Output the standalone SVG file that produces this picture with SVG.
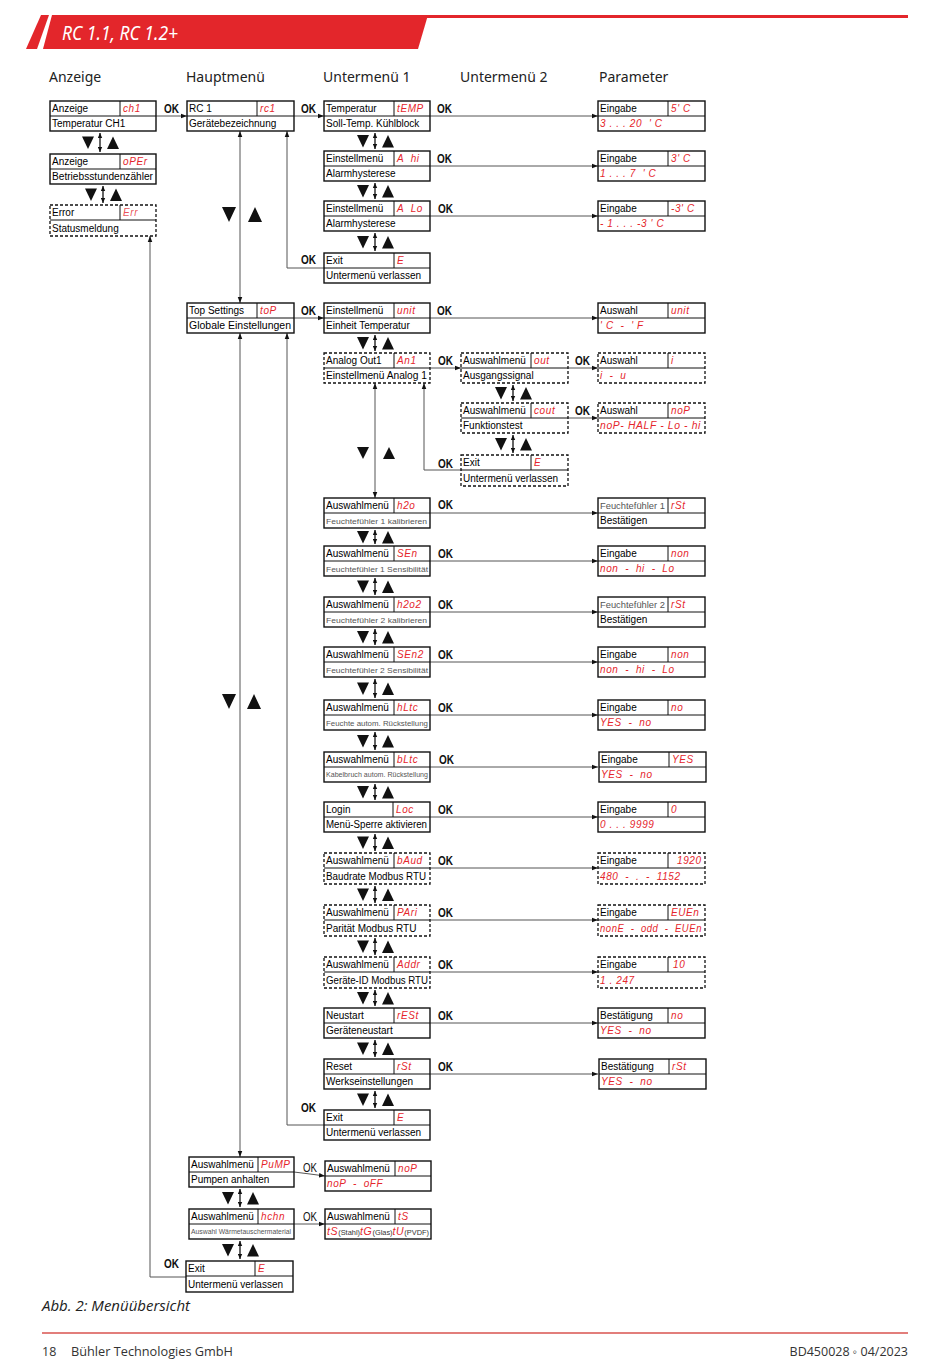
<svg xmlns="http://www.w3.org/2000/svg" xmlns:xlink="http://www.w3.org/1999/xlink" width="950" height="1369" viewBox="0 0 950 1369">
<style>
.b{fill:#fff;stroke:#111;stroke-width:1.4}
.d{fill:#fff;stroke:#111;stroke-width:1.3;stroke-dasharray:3 2}
.dv{stroke:#111;stroke-width:1;fill:none}
.t{font-family:"Liberation Sans",Arial,sans-serif;font-size:10px;fill:#000}
.s{font-family:"Liberation Sans",Arial,sans-serif;font-size:8px;fill:#555}
.r{font-family:"Liberation Sans",Arial,sans-serif;font-style:italic;font-size:10px;letter-spacing:0.6px;fill:#e5262c;white-space:pre}
.ok{font-family:"Liberation Sans",Arial,sans-serif;font-weight:bold;font-size:12.5px;fill:#111}
.c{stroke:#555;stroke-width:1;fill:none}
.a{marker-end:url(#ah)}
.aa{marker-start:url(#ah);marker-end:url(#ah)}
.ud{stroke:#111;stroke-width:1.3;marker-start:url(#sh);marker-end:url(#sh)}
.h{font-family:"Noto Sans","Open Sans",sans-serif;font-size:14px;fill:#222}
.f{font-family:"Open Sans","Noto Sans",sans-serif;font-size:12.5px;fill:#333}
</style>
<defs>
<marker id="ah" viewBox="0 0 8 8" refX="8" refY="4" markerWidth="6" markerHeight="6" markerUnits="userSpaceOnUse" orient="auto-start-reverse"><path d="M0,1 L8,4 L0,7 z" fill="#111"/></marker>
<marker id="sh" viewBox="0 0 8 8" refX="8" refY="4" markerWidth="5" markerHeight="5" markerUnits="userSpaceOnUse" orient="auto-start-reverse"><path d="M0,0.5 L8,4 L0,7.5 z" fill="#111"/></marker>
<g id="nv" fill="#111"><polygon points="-18,0 -6,0 -12,12.5"/><polygon points="7,12.5 19,12.5 13,0"/></g>
</defs>

<g id="header">
<polygon points="41,15 49,15 37,49 26,49" fill="#e3262b"/>
<polygon points="52,15 428,15 418,49 43,49" fill="#e3262b"/>
<rect x="420" y="15" width="488" height="3" fill="#e3262b"/>
<text x="62" y="40" font-family="Noto Sans,Open Sans,sans-serif" font-style="italic" font-size="19" fill="#fff" textLength="116" lengthAdjust="spacingAndGlyphs">RC 1.1, RC 1.2+</text>
</g>

<g id="column-headers">
<text class="h" x="49" y="82">Anzeige</text>
<text class="h" x="186" y="82">Hauptmenü</text>
<text class="h" x="323" y="82">Untermenü 1</text>
<text class="h" x="460" y="82">Untermenü 2</text>
<text class="h" x="599" y="82">Parameter</text>
</g>

<g id="connectors">
<line class="c a" x1="156" y1="116" x2="187" y2="116"/>
<line class="c a" x1="294" y1="116" x2="324" y2="116"/>
<line class="c a" x1="430" y1="116" x2="598" y2="116"/>
<line class="c a" x1="430" y1="166" x2="598" y2="166"/>
<line class="c a" x1="430" y1="216" x2="598" y2="216"/>
<polyline class="c a" points="324,268 287,268 287,131"/>
<line class="c aa" x1="240" y1="131" x2="240" y2="303"/>
<line class="c a" x1="294" y1="318" x2="324" y2="318"/>
<line class="c a" x1="430" y1="318" x2="598" y2="318"/>
<line class="c a" x1="430" y1="368" x2="461" y2="368"/>
<line class="c a" x1="568" y1="368" x2="598" y2="368"/>
<line class="c a" x1="568" y1="418" x2="598" y2="418"/>
<polyline class="c a" points="461,470 424,470 424,383"/>
<line class="c aa" x1="375" y1="383" x2="375" y2="498"/>
<line class="c a" x1="430" y1="513" x2="598" y2="513"/>
<line class="c a" x1="430" y1="561" x2="598" y2="561"/>
<line class="c a" x1="430" y1="612" x2="598" y2="612"/>
<line class="c a" x1="430" y1="662" x2="598" y2="662"/>
<line class="c a" x1="430" y1="715" x2="598" y2="715"/>
<line class="c a" x1="430" y1="767" x2="598" y2="767"/>
<line class="c a" x1="430" y1="817" x2="598" y2="817"/>
<line class="c a" x1="430" y1="868" x2="598" y2="868"/>
<line class="c a" x1="430" y1="920" x2="598" y2="920"/>
<line class="c a" x1="430" y1="972" x2="598" y2="972"/>
<line class="c a" x1="430" y1="1023" x2="598" y2="1023"/>
<line class="c a" x1="430" y1="1074" x2="598" y2="1074"/>
<polyline class="c a" points="324,1125 287,1125 287,333"/>
<line class="c aa" x1="240" y1="333" x2="240" y2="1157"/>
<polyline class="c a" points="294,1172 310,1174 325,1176"/>
<line class="c a" x1="294" y1="1224" x2="325" y2="1224"/>
<polyline class="c a" points="186,1277 150,1277 150,236"/>
</g>

<g id="ok-labels">
<text class="ok" x="164" y="113" textLength="15" lengthAdjust="spacingAndGlyphs">OK</text>
<text class="ok" x="301" y="113" textLength="15" lengthAdjust="spacingAndGlyphs">OK</text>
<text class="ok" x="437" y="113" textLength="15" lengthAdjust="spacingAndGlyphs">OK</text>
<text class="ok" x="437" y="163" textLength="15" lengthAdjust="spacingAndGlyphs">OK</text>
<text class="ok" x="438" y="213" textLength="15" lengthAdjust="spacingAndGlyphs">OK</text>
<text class="ok" x="301" y="264" textLength="15" lengthAdjust="spacingAndGlyphs">OK</text>
<text class="ok" x="301" y="315" textLength="15" lengthAdjust="spacingAndGlyphs">OK</text>
<text class="ok" x="437" y="315" textLength="15" lengthAdjust="spacingAndGlyphs">OK</text>
<text class="ok" x="438" y="365" textLength="15" lengthAdjust="spacingAndGlyphs">OK</text>
<text class="ok" x="575" y="365" textLength="15" lengthAdjust="spacingAndGlyphs">OK</text>
<text class="ok" x="575" y="415" textLength="15" lengthAdjust="spacingAndGlyphs">OK</text>
<text class="ok" x="438" y="468" textLength="15" lengthAdjust="spacingAndGlyphs">OK</text>
<text class="ok" x="438" y="509" textLength="15" lengthAdjust="spacingAndGlyphs">OK</text>
<text class="ok" x="438" y="558" textLength="15" lengthAdjust="spacingAndGlyphs">OK</text>
<text class="ok" x="438" y="609" textLength="15" lengthAdjust="spacingAndGlyphs">OK</text>
<text class="ok" x="438" y="659" textLength="15" lengthAdjust="spacingAndGlyphs">OK</text>
<text class="ok" x="438" y="712" textLength="15" lengthAdjust="spacingAndGlyphs">OK</text>
<text class="ok" x="439" y="764" textLength="15" lengthAdjust="spacingAndGlyphs">OK</text>
<text class="ok" x="438" y="814" textLength="15" lengthAdjust="spacingAndGlyphs">OK</text>
<text class="ok" x="438" y="865" textLength="15" lengthAdjust="spacingAndGlyphs">OK</text>
<text class="ok" x="438" y="917" textLength="15" lengthAdjust="spacingAndGlyphs">OK</text>
<text class="ok" x="438" y="969" textLength="15" lengthAdjust="spacingAndGlyphs">OK</text>
<text class="ok" x="438" y="1020" textLength="15" lengthAdjust="spacingAndGlyphs">OK</text>
<text class="ok" x="438" y="1071" textLength="15" lengthAdjust="spacingAndGlyphs">OK</text>
<text class="ok" x="301" y="1112" textLength="15" lengthAdjust="spacingAndGlyphs">OK</text>
<text class="ok" x="303" y="1172" textLength="14" lengthAdjust="spacingAndGlyphs" style="font-weight:normal">OK</text>
<text class="ok" x="303" y="1221" textLength="14" lengthAdjust="spacingAndGlyphs" style="font-weight:normal">OK</text>
<text class="ok" x="164" y="1268" textLength="15" lengthAdjust="spacingAndGlyphs">OK</text>
</g>

<g id="navigation" fill="#111">
<use href="#nv" x="100" y="136.5"/><line class="ud" x1="100" y1="133" x2="100" y2="152"/>
<use href="#nv" x="103" y="188.5"/><line class="ud" x1="103" y1="186" x2="103" y2="203"/>
<use href="#nv" x="375" y="135"/><line class="ud" x1="375" y1="133" x2="375" y2="149"/>
<use href="#nv" x="375" y="185"/><line class="ud" x1="375" y1="183" x2="375" y2="199"/>
<use href="#nv" x="375" y="236"/><line class="ud" x1="375" y1="233" x2="375" y2="251"/>
<use href="#nv" x="375" y="337"/><line class="ud" x1="375" y1="335" x2="375" y2="351"/>
<use href="#nv" x="513" y="387"/><line class="ud" x1="513" y1="385" x2="513" y2="401"/>
<use href="#nv" x="513" y="438"/><line class="ud" x1="513" y1="435" x2="513" y2="453"/>
<use href="#nv" x="375" y="531"/><line class="ud" x1="375" y1="530" x2="375" y2="544"/>
<use href="#nv" x="375" y="580.5"/><line class="ud" x1="375" y1="578" x2="375" y2="595"/>
<use href="#nv" x="375" y="631"/><line class="ud" x1="375" y1="629" x2="375" y2="645"/>
<use href="#nv" x="375" y="682.5"/><line class="ud" x1="375" y1="679" x2="375" y2="698"/>
<use href="#nv" x="375" y="735"/><line class="ud" x1="375" y1="732" x2="375" y2="750"/>
<use href="#nv" x="375" y="786"/><line class="ud" x1="375" y1="784" x2="375" y2="800"/>
<use href="#nv" x="375" y="836.5"/><line class="ud" x1="375" y1="834" x2="375" y2="851"/>
<use href="#nv" x="375" y="888.5"/><line class="ud" x1="375" y1="886" x2="375" y2="903"/>
<use href="#nv" x="375" y="940.5"/><line class="ud" x1="375" y1="938" x2="375" y2="955"/>
<use href="#nv" x="375" y="992"/><line class="ud" x1="375" y1="990" x2="375" y2="1006"/>
<use href="#nv" x="375" y="1042.5"/><line class="ud" x1="375" y1="1040" x2="375" y2="1057"/>
<use href="#nv" x="375" y="1093.5"/><line class="ud" x1="375" y1="1091" x2="375" y2="1108"/>
<use href="#nv" x="240" y="1192"/><line class="ud" x1="240" y1="1189" x2="240" y2="1207"/>
<use href="#nv" x="240" y="1244"/><line class="ud" x1="240" y1="1241" x2="240" y2="1259"/>
<polygon points="222,207 236,207 229,222"/><polygon points="248,222 262,222 255,207"/>
<polygon points="222,694 236,694 229,709"/><polygon points="247,709 261,709 254,694"/>
<polygon points="357,447 369,447 363,459"/><polygon points="383,459 395,459 389,447"/>
</g>

<g id="n-anz-ch1"><rect class="b" x="50" y="101" width="106" height="30"/><path class="dv" d="M50,116H156M120,101V116"/><text class="t" x="52" y="112">Anzeige</text><text class="r" x="123" y="112">ch1</text><text class="t" x="52" y="127">Temperatur CH1</text></g>
<g id="n-anz-oper"><rect class="b" x="50" y="154" width="106" height="30"/><path class="dv" d="M50,169H156M120,154V169"/><text class="t" x="52" y="165">Anzeige</text><text class="r" x="123" y="165">oPEr</text><text class="t" x="52" y="180" textLength="101" lengthAdjust="spacingAndGlyphs">Betriebsstundenzähler</text></g>
<g id="n-anz-err"><rect class="d" x="50" y="205" width="106" height="31"/><path class="dv" d="M50,220H156M120,205V220"/><text class="t" x="52" y="216">Error</text><text class="r" x="123" y="216" style="fill-opacity:0.8">Err</text><text class="t" x="52" y="232">Statusmeldung</text></g>

<g id="n-h-rc1"><rect class="b" x="187" y="101" width="107" height="30"/><path class="dv" d="M187,116H294M257,101V116"/><text class="t" x="189" y="112">RC 1</text><text class="r" x="260" y="112">rc1</text><text class="t" x="189" y="127">Gerätebezeichnung</text></g>
<g id="n-h-top"><rect class="b" x="187" y="303" width="107" height="30"/><path class="dv" d="M187,318H294M257,303V318"/><text class="t" x="189" y="314">Top Settings</text><text class="r" x="260" y="314">toP</text><text class="t" x="189" y="329" textLength="102" lengthAdjust="spacingAndGlyphs">Globale Einstellungen</text></g>
<g id="n-h-pump"><rect class="b" x="189" y="1157" width="105" height="30"/><path class="dv" d="M189,1172H294M258,1157V1172"/><text class="t" x="191" y="1168">Auswahlmenü</text><text class="r" x="261" y="1168">PuMP</text><text class="t" x="191" y="1183">Pumpen anhalten</text></g>
<g id="n-h-hchn"><rect class="b" x="189" y="1209" width="105" height="30"/><path class="dv" d="M189,1224H294M258,1209V1224"/><text class="t" x="191" y="1220">Auswahlmenü</text><text class="r" x="261" y="1220">hchn</text><text class="s" x="191" y="1234" style="font-size:6.3px" textLength="100" lengthAdjust="spacingAndGlyphs">Auswahl Wärmetauschermaterial</text></g>
<g id="n-h-exit"><rect class="b" x="186" y="1261" width="107" height="31"/><path class="dv" d="M186,1276H293M255,1261V1276"/><text class="t" x="188" y="1272">Exit</text><text class="r" x="258" y="1272">E</text><text class="t" x="188" y="1288">Untermenü verlassen</text></g>

<g id="n-u1-temp"><rect class="b" x="324" y="101" width="106" height="30"/><path class="dv" d="M324,116H430M394,101V116"/><text class="t" x="326" y="112">Temperatur</text><text class="r" x="397" y="112">tEMP</text><text class="t" x="326" y="127">Soll-Temp. Kühlblock</text></g>
<g id="n-u1-ahi"><rect class="b" x="324" y="151" width="106" height="30"/><path class="dv" d="M324,166H430M394,151V166"/><text class="t" x="326" y="162">Einstellmenü</text><text class="r" x="397" y="162">A  hi</text><text class="t" x="326" y="177">Alarmhysterese</text></g>
<g id="n-u1-alo"><rect class="b" x="324" y="201" width="106" height="30"/><path class="dv" d="M324,216H430M394,201V216"/><text class="t" x="326" y="212">Einstellmenü</text><text class="r" x="397" y="212">A  Lo</text><text class="t" x="326" y="227">Alarmhysterese</text></g>
<g id="n-u1-exit1"><rect class="b" x="324" y="253" width="106" height="30"/><path class="dv" d="M324,268H430M394,253V268"/><text class="t" x="326" y="264">Exit</text><text class="r" x="397" y="264">E</text><text class="t" x="326" y="279">Untermenü verlassen</text></g>
<g id="n-u1-unit"><rect class="b" x="324" y="303" width="106" height="30"/><path class="dv" d="M324,318H430M394,303V318"/><text class="t" x="326" y="314">Einstellmenü</text><text class="r" x="397" y="314">unit</text><text class="t" x="326" y="329">Einheit Temperatur</text></g>
<g id="n-u1-an1"><rect class="d" x="324" y="353" width="106" height="30"/><path class="dv" d="M324,368H430M394,353V368"/><text class="t" x="326" y="364">Analog Out1</text><text class="r" x="397" y="364">An1</text><text class="t" x="326" y="379" textLength="101" lengthAdjust="spacingAndGlyphs">Einstellmenü Analog 1</text></g>
<g id="n-u1-h2o"><rect class="b" x="324" y="498" width="106" height="30"/><path class="dv" d="M324,513H430M394,498V513"/><text class="t" x="326" y="509">Auswahlmenü</text><text class="r" x="397" y="509">h2o</text><text class="s" x="326" y="524" textLength="101" lengthAdjust="spacingAndGlyphs">Feuchtefühler 1 kalibrieren</text></g>
<g id="n-u1-sen"><rect class="b" x="324" y="546" width="106" height="30"/><path class="dv" d="M324,561H430M394,546V561"/><text class="t" x="326" y="557">Auswahlmenü</text><text class="r" x="397" y="557">SEn</text><text class="s" x="326" y="572" textLength="102" lengthAdjust="spacingAndGlyphs">Feuchtefühler 1 Sensibilität</text></g>
<g id="n-u1-h2o2"><rect class="b" x="324" y="597" width="106" height="30"/><path class="dv" d="M324,612H430M394,597V612"/><text class="t" x="326" y="608">Auswahlmenü</text><text class="r" x="397" y="608">h2o2</text><text class="s" x="326" y="623" textLength="101" lengthAdjust="spacingAndGlyphs">Feuchtefühler 2 kalibrieren</text></g>
<g id="n-u1-sen2"><rect class="b" x="324" y="647" width="106" height="30"/><path class="dv" d="M324,662H430M394,647V662"/><text class="t" x="326" y="658">Auswahlmenü</text><text class="r" x="397" y="658">SEn2</text><text class="s" x="326" y="673" textLength="102" lengthAdjust="spacingAndGlyphs">Feuchtefühler 2 Sensibilität</text></g>
<g id="n-u1-hltc"><rect class="b" x="324" y="700" width="106" height="30"/><path class="dv" d="M324,715H430M394,700V715"/><text class="t" x="326" y="711">Auswahlmenü</text><text class="r" x="397" y="711">hLtc</text><text class="s" x="326" y="726" textLength="102" lengthAdjust="spacingAndGlyphs">Feuchte autom. Rückstellung</text></g>
<g id="n-u1-bltc"><rect class="b" x="324" y="752" width="106" height="30"/><path class="dv" d="M324,767H430M394,752V767"/><text class="t" x="326" y="763">Auswahlmenü</text><text class="r" x="397" y="763">bLtc</text><text class="s" x="326" y="777" style="font-size:6.5px" textLength="102" lengthAdjust="spacingAndGlyphs">Kabelbruch autom. Rückstellung</text></g>
<g id="n-u1-loc"><rect class="b" x="324" y="802" width="106" height="30"/><path class="dv" d="M324,817H430M393,802V817"/><text class="t" x="326" y="813">Login</text><text class="r" x="396" y="813">Loc</text><text class="t" x="326" y="828" textLength="101" lengthAdjust="spacingAndGlyphs">Menü-Sperre aktivieren</text></g>
<g id="n-u1-baud"><rect class="d" x="324" y="853" width="106" height="31"/><path class="dv" d="M324,868H430M394,853V868"/><text class="t" x="326" y="864">Auswahlmenü</text><text class="r" x="397" y="864">bAud</text><text class="t" x="326" y="880" textLength="100" lengthAdjust="spacingAndGlyphs">Baudrate Modbus RTU</text></g>
<g id="n-u1-pari"><rect class="d" x="324" y="905" width="106" height="31"/><path class="dv" d="M324,920H430M394,905V920"/><text class="t" x="326" y="916">Auswahlmenü</text><text class="r" x="397" y="916">PAri</text><text class="t" x="326" y="932">Parität Modbus RTU</text></g>
<g id="n-u1-addr"><rect class="d" x="324" y="957" width="106" height="31"/><path class="dv" d="M324,972H430M394,957V972"/><text class="t" x="326" y="968">Auswahlmenü</text><text class="r" x="397" y="968">Addr</text><text class="t" x="326" y="984" textLength="102" lengthAdjust="spacingAndGlyphs">Geräte-ID Modbus RTU</text></g>
<g id="n-u1-rest"><rect class="b" x="324" y="1008" width="106" height="30"/><path class="dv" d="M324,1023H430M394,1008V1023"/><text class="t" x="326" y="1019">Neustart</text><text class="r" x="397" y="1019">rESt</text><text class="t" x="326" y="1034">Geräteneustart</text></g>
<g id="n-u1-rst"><rect class="b" x="324" y="1059" width="106" height="30"/><path class="dv" d="M324,1074H430M394,1059V1074"/><text class="t" x="326" y="1070">Reset</text><text class="r" x="397" y="1070">rSt</text><text class="t" x="326" y="1085">Werkseinstellungen</text></g>
<g id="n-u1-exit2"><rect class="b" x="324" y="1110" width="106" height="30"/><path class="dv" d="M324,1125H430M394,1110V1125"/><text class="t" x="326" y="1121">Exit</text><text class="r" x="397" y="1121">E</text><text class="t" x="326" y="1136">Untermenü verlassen</text></g>
<g id="n-u1-nop"><rect class="b" x="325" y="1161" width="106" height="30"/><path class="dv" d="M325,1176H431M395,1161V1176"/><text class="t" x="327" y="1172">Auswahlmenü</text><text class="r" x="398" y="1172">noP</text><text class="r" x="327" y="1187">noP  -  oFF</text></g>
<g id="n-u1-ts"><rect class="b" x="325" y="1209" width="106" height="30"/><path class="dv" d="M325,1224H431M395,1209V1224"/><text class="t" x="327" y="1220">Auswahlmenü</text><text class="r" x="398" y="1220">tS</text><text class="r" x="327" y="1235" textLength="102" lengthAdjust="spacingAndGlyphs">tS<tspan style="font-style:normal;font-size:7px;fill:#333;letter-spacing:0">(Stahl)</tspan>tG<tspan style="font-style:normal;font-size:7px;fill:#333;letter-spacing:0">(Glas)</tspan>tU<tspan style="font-style:normal;font-size:7px;fill:#333;letter-spacing:0">(PVDF)</tspan></text></g>

<g id="n-u2-out"><rect class="d" x="461" y="353" width="107" height="30"/><path class="dv" d="M461,368H568M531,353V368"/><text class="t" x="463" y="364">Auswahlmenü</text><text class="r" x="534" y="364">out</text><text class="t" x="463" y="379">Ausgangssignal</text></g>
<g id="n-u2-cout"><rect class="d" x="461" y="403" width="107" height="30"/><path class="dv" d="M461,418H568M531,403V418"/><text class="t" x="463" y="414">Auswahlmenü</text><text class="r" x="534" y="414">cout</text><text class="t" x="463" y="429">Funktionstest</text></g>
<g id="n-u2-exit"><rect class="d" x="461" y="455" width="107" height="31"/><path class="dv" d="M461,470H568M531,455V470"/><text class="t" x="463" y="466">Exit</text><text class="r" x="534" y="466">E</text><text class="t" x="463" y="482">Untermenü verlassen</text></g>

<g id="p-temp"><rect class="b" x="598" y="101" width="107" height="30"/><path class="dv" d="M598,116H705M668,101V116"/><text class="t" x="600" y="112">Eingabe</text><text class="r" x="671" y="112">5' C</text><text class="r" x="600" y="127">3 . . . 20  ' C</text></g>
<g id="p-ahi"><rect class="b" x="598" y="151" width="107" height="30"/><path class="dv" d="M598,166H705M668,151V166"/><text class="t" x="600" y="162">Eingabe</text><text class="r" x="671" y="162">3' C</text><text class="r" x="600" y="177">1 . . . 7  ' C</text></g>
<g id="p-alo"><rect class="b" x="598" y="201" width="107" height="30"/><path class="dv" d="M598,216H705M668,201V216"/><text class="t" x="600" y="212">Eingabe</text><text class="r" x="671" y="212">-3' C</text><text class="r" x="600" y="227">- 1 . . . -3 ' C</text></g>
<g id="p-unit"><rect class="b" x="598" y="303" width="107" height="30"/><path class="dv" d="M598,318H705M668,303V318"/><text class="t" x="600" y="314">Auswahl</text><text class="r" x="671" y="314">unit</text><text class="r" x="600" y="329">' C  -  ' F</text></g>
<g id="p-out"><rect class="d" x="598" y="353" width="107" height="30"/><path class="dv" d="M598,368H705M668,353V368"/><text class="t" x="600" y="364">Auswahl</text><text class="r" x="671" y="364">i</text><text class="r" x="600" y="379">i  -  u</text></g>
<g id="p-cout"><rect class="d" x="598" y="403" width="107" height="30"/><path class="dv" d="M598,418H705M668,403V418"/><text class="t" x="600" y="414">Auswahl</text><text class="r" x="671" y="414">noP</text><text class="r" x="600" y="429" textLength="101" lengthAdjust="spacingAndGlyphs">noP- HALF - Lo - hi</text></g>
<g id="p-h2o"><rect class="b" x="598" y="498" width="107" height="30"/><path class="dv" d="M598,513H705M668,498V513"/><text class="s" x="600" y="509" style="font-size:9px" textLength="65" lengthAdjust="spacingAndGlyphs">Feuchtefühler 1</text><text class="r" x="671" y="509">rSt</text><text class="t" x="600" y="524">Bestätigen</text></g>
<g id="p-sen"><rect class="b" x="598" y="546" width="107" height="30"/><path class="dv" d="M598,561H705M668,546V561"/><text class="t" x="600" y="557">Eingabe</text><text class="r" x="671" y="557">non</text><text class="r" x="600" y="572">non  -  hi  -  Lo</text></g>
<g id="p-h2o2"><rect class="b" x="598" y="597" width="107" height="30"/><path class="dv" d="M598,612H705M668,597V612"/><text class="s" x="600" y="608" style="font-size:9px" textLength="65" lengthAdjust="spacingAndGlyphs">Feuchtefühler 2</text><text class="r" x="671" y="608">rSt</text><text class="t" x="600" y="623">Bestätigen</text></g>
<g id="p-sen2"><rect class="b" x="598" y="647" width="107" height="30"/><path class="dv" d="M598,662H705M668,647V662"/><text class="t" x="600" y="658">Eingabe</text><text class="r" x="671" y="658">non</text><text class="r" x="600" y="673">non  -  hi  -  Lo</text></g>
<g id="p-hltc"><rect class="b" x="598" y="700" width="107" height="30"/><path class="dv" d="M598,715H705M668,700V715"/><text class="t" x="600" y="711">Eingabe</text><text class="r" x="671" y="711">no</text><text class="r" x="600" y="726">YES  -  no</text></g>
<g id="p-bltc"><rect class="b" x="599" y="752" width="107" height="30"/><path class="dv" d="M599,767H706M669,752V767"/><text class="t" x="601" y="763">Eingabe</text><text class="r" x="672" y="763">YES</text><text class="r" x="601" y="778">YES  -  no</text></g>
<g id="p-loc"><rect class="b" x="598" y="802" width="107" height="30"/><path class="dv" d="M598,817H705M668,802V817"/><text class="t" x="600" y="813">Eingabe</text><text class="r" x="671" y="813">0</text><text class="r" x="600" y="828">0 . . . 9999</text></g>
<g id="p-baud"><rect class="d" x="598" y="853" width="107" height="31"/><path class="dv" d="M598,868H705M668,853V868"/><text class="t" x="600" y="864">Eingabe</text><text class="r" x="677" y="864">1920</text><text class="r" x="600" y="880">480  -  .  -  1152</text></g>
<g id="p-pari"><rect class="d" x="598" y="905" width="107" height="31"/><path class="dv" d="M598,920H705M668,905V920"/><text class="t" x="600" y="916">Eingabe</text><text class="r" x="671" y="916">EUEn</text><text class="r" x="600" y="932" textLength="102" lengthAdjust="spacingAndGlyphs">nonE  -  odd  -  EUEn</text></g>
<g id="p-addr"><rect class="d" x="598" y="957" width="107" height="31"/><path class="dv" d="M598,972H705M668,957V972"/><text class="t" x="600" y="968">Eingabe</text><text class="r" x="673" y="968">10</text><text class="r" x="600" y="984">1 . 247</text></g>
<g id="p-rest"><rect class="b" x="598" y="1008" width="107" height="30"/><path class="dv" d="M598,1023H705M668,1008V1023"/><text class="t" x="600" y="1019">Bestätigung</text><text class="r" x="671" y="1019">no</text><text class="r" x="600" y="1034">YES  -  no</text></g>
<g id="p-rst"><rect class="b" x="599" y="1059" width="107" height="30"/><path class="dv" d="M599,1074H706M669,1059V1074"/><text class="t" x="601" y="1070">Bestätigung</text><text class="r" x="672" y="1070">rSt</text><text class="r" x="601" y="1085">YES  -  no</text></g>

<g id="footer">
<text x="42" y="1311" font-family="Open Sans,Noto Sans,sans-serif" font-style="italic" font-size="14" fill="#222" textLength="148" lengthAdjust="spacingAndGlyphs">Abb. 2: Menüübersicht</text>
<line x1="42" y1="1333" x2="908" y2="1333" stroke="#d9534f" stroke-width="1.5"/>
<text class="f" x="42" y="1356">18</text>
<text class="f" x="71" y="1356" textLength="162" lengthAdjust="spacingAndGlyphs">Bühler Technologies GmbH</text>
<text class="f" x="908" y="1356" text-anchor="end">BD450028 ◦ 04/2023</text>
</g>
</svg>
